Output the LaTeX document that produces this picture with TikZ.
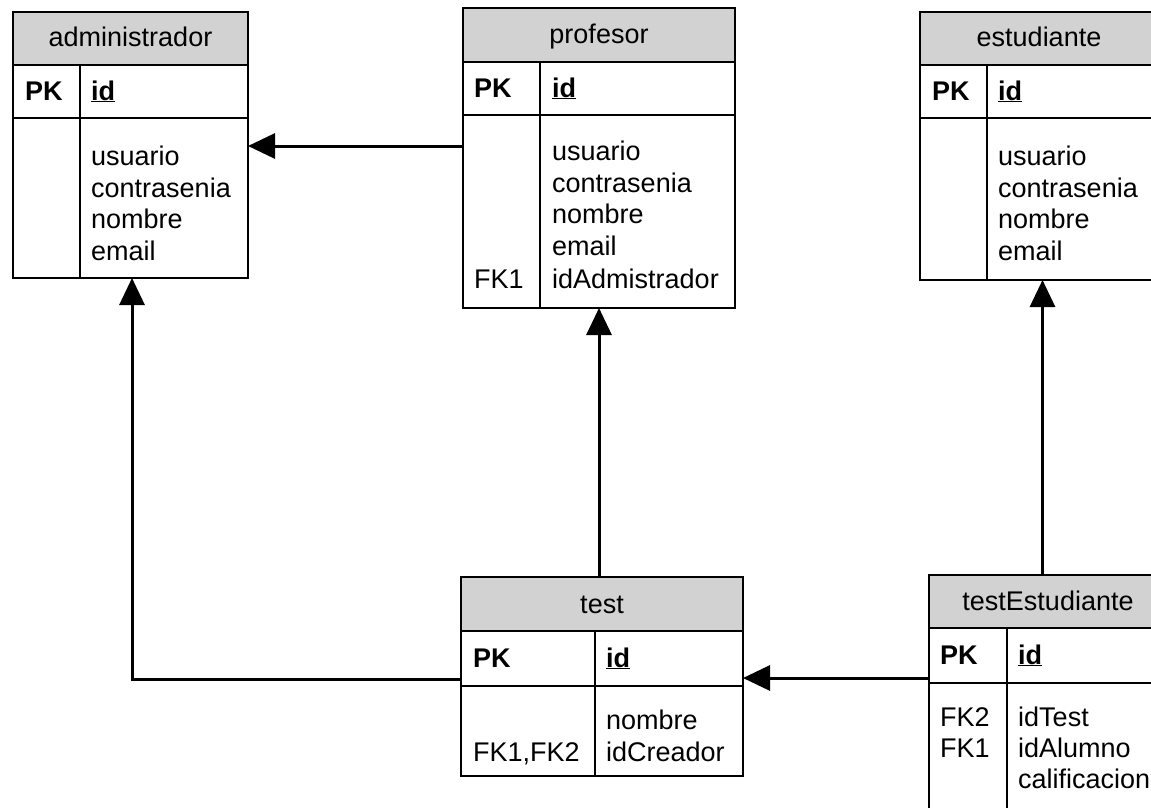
\documentclass[tikz,border=0pt]{standalone}
\usepackage{fontspec}
\setmainfont{Liberation Sans}
\usetikzlibrary{arrows.meta}
\definecolor{hdrgray}{RGB}{210,210,210}
\newcommand\erfs{\fontsize{27}{31}\selectfont}
\tikzset{
  tbl/.style={draw, line width=1.6pt, inner sep=0pt, outer sep=0pt, anchor=north west},
  ln/.style={line width=1.6pt},
  conn/.style={line width=3pt, -{Triangle[length=27pt,width=25pt]}},
  txt/.style={font=\erfs, anchor=base west, inner sep=0pt},
  ttl/.style={font=\erfs, anchor=base, inner sep=0pt},
  bld/.style={font=\erfs\bfseries, anchor=base west, inner sep=0pt},
}
\begin{document}
\begin{tikzpicture}[x=1pt,y=-1pt]
\useasboundingbox (0,0) rectangle (1151,808);
\clip (0,0) rectangle (1151,808);
\fill[white] (0,0) rectangle (1151,808);

% ---------- administrador ----------
\node[tbl, minimum width=235pt, minimum height=266pt] (adm) at (13,12) {};
\fill[hdrgray] (adm.north west) rectangle (adm.east |- 0,65);
\draw[ln] (adm.north west) rectangle (adm.south east);
\draw[ln] (adm.west |- 0,65) -- (adm.east |- 0,65);
\draw[ln] (adm.west |- 0,118) -- (adm.east |- 0,118);
\draw[ln] (adm.south -| 80,0) -- (80,65);
\node[ttl] (admT) at (130.5,47) {administrador};
\node[bld] (admPK) at (25,100) {PK};
\node[bld] (admId) at (91,100) {\underline{id}};
\node[txt] (adm1) at (91,165) {usuario};
\node[txt] (adm2) at (91,197) {contrasenia};
\node[txt] (adm3) at (91,228) {nombre};
\node[txt] (adm4) at (91,260) {email};

% ---------- profesor ----------
\node[tbl, minimum width=272pt, minimum height=300pt] (prof) at (463,8) {};
\fill[hdrgray] (prof.north west) rectangle (prof.east |- 0,62);
\draw[ln] (prof.north west) rectangle (prof.south east);
\draw[ln] (prof.west |- 0,62) -- (prof.east |- 0,62);
\draw[ln] (prof.west |- 0,115) -- (prof.east |- 0,115);
\draw[ln] (prof.south -| 540,0) -- (540,62);
\node[ttl] (profT) at (599,44) {profesor};
\node[bld] (profPK) at (474,97) {PK};
\node[bld] (profId) at (552,97) {\underline{id}};
\node[txt] (prof1) at (552,160) {usuario};
\node[txt] (prof2) at (552,192) {contrasenia};
\node[txt] (prof3) at (552,223) {nombre};
\node[txt] (prof4) at (552,255) {email};
\node[txt] (prof5) at (552,288) {idAdmistrador};
\node[txt] (profFK) at (474,288) {FK1};

% ---------- estudiante ----------
\node[tbl, minimum width=245pt, minimum height=268pt] (est) at (920,12) {};
\fill[hdrgray] (est.north west) rectangle (est.east |- 0,65);
\draw[ln] (est.north west) rectangle (est.south east);
\draw[ln] (est.west |- 0,65) -- (est.east |- 0,65);
\draw[ln] (est.west |- 0,118) -- (est.east |- 0,118);
\draw[ln] (est.south -| 987,0) -- (987,65);
\node[ttl] (estT) at (1039,47) {estudiante};
\node[bld] (estPK) at (932,100) {PK};
\node[bld] (estId) at (998,100) {\underline{id}};
\node[txt] (est1) at (998,165) {usuario};
\node[txt] (est2) at (998,197) {contrasenia};
\node[txt] (est3) at (998,228) {nombre};
\node[txt] (est4) at (998,260) {email};

% ---------- test ----------
\node[tbl, minimum width=282pt, minimum height=199pt] (test) at (461,577) {};
\fill[hdrgray] (test.north west) rectangle (test.east |- 0,631);
\draw[ln] (test.north west) rectangle (test.south east);
\draw[ln] (test.west |- 0,631) -- (test.east |- 0,631);
\draw[ln] (test.west |- 0,686) -- (test.east |- 0,686);
\draw[ln] (test.south -| 595,0) -- (595,631);
\node[ttl] (testT) at (602,613) {test};
\node[bld] (testPK) at (473,667) {PK};
\node[bld] (testId) at (606,667) {\underline{id}};
\node[txt] (test1) at (606,729) {nombre};
\node[txt] (test2) at (606,761) {idCreador};
\node[txt] (testFK) at (473,761) {FK1,FK2};

% ---------- testEstudiante ----------
\node[tbl, minimum width=240pt, minimum height=260pt] (testE) at (929,575) {};
\fill[hdrgray] (testE.north west) rectangle (testE.east |- 0,628);
\draw[ln] (testE.north west) rectangle (testE.south east);
\draw[ln] (testE.west |- 0,628) -- (testE.east |- 0,628);
\draw[ln] (testE.west |- 0,683) -- (testE.east |- 0,683);
\draw[ln] (testE.south -| 1007,0) -- (1007,628);
\node[ttl] (testET) at (1048,610) {testEstudiante};
\node[bld] (testEPK) at (940,664) {PK};
\node[bld] (testEId) at (1018,664) {\underline{id}};
\node[txt] (testE1) at (1018,726) {idTest};
\node[txt] (testE2) at (1018,757) {idAlumno};
\node[txt] (testE3) at (1018,788) {calificacion};
\node[txt] (testEFK2) at (940,726) {FK2};
\node[txt] (testEFK1) at (940,757) {FK1};

% ---------- connectors ----------
\draw[conn] (prof.west |- 0,146) -- (adm.east |- 0,146);
\draw[conn] (test.west |- 0,679) -| ([xshift=1.5pt]adm.south);
\draw[conn] (test.north -| prof.south) -- (prof.south);
\draw[conn] (testE.west |- 0,678) -- (test.east |- 0,678);
\draw[conn] (testE.north -| est.south) -- (est.south);
\end{tikzpicture}
\end{document}
